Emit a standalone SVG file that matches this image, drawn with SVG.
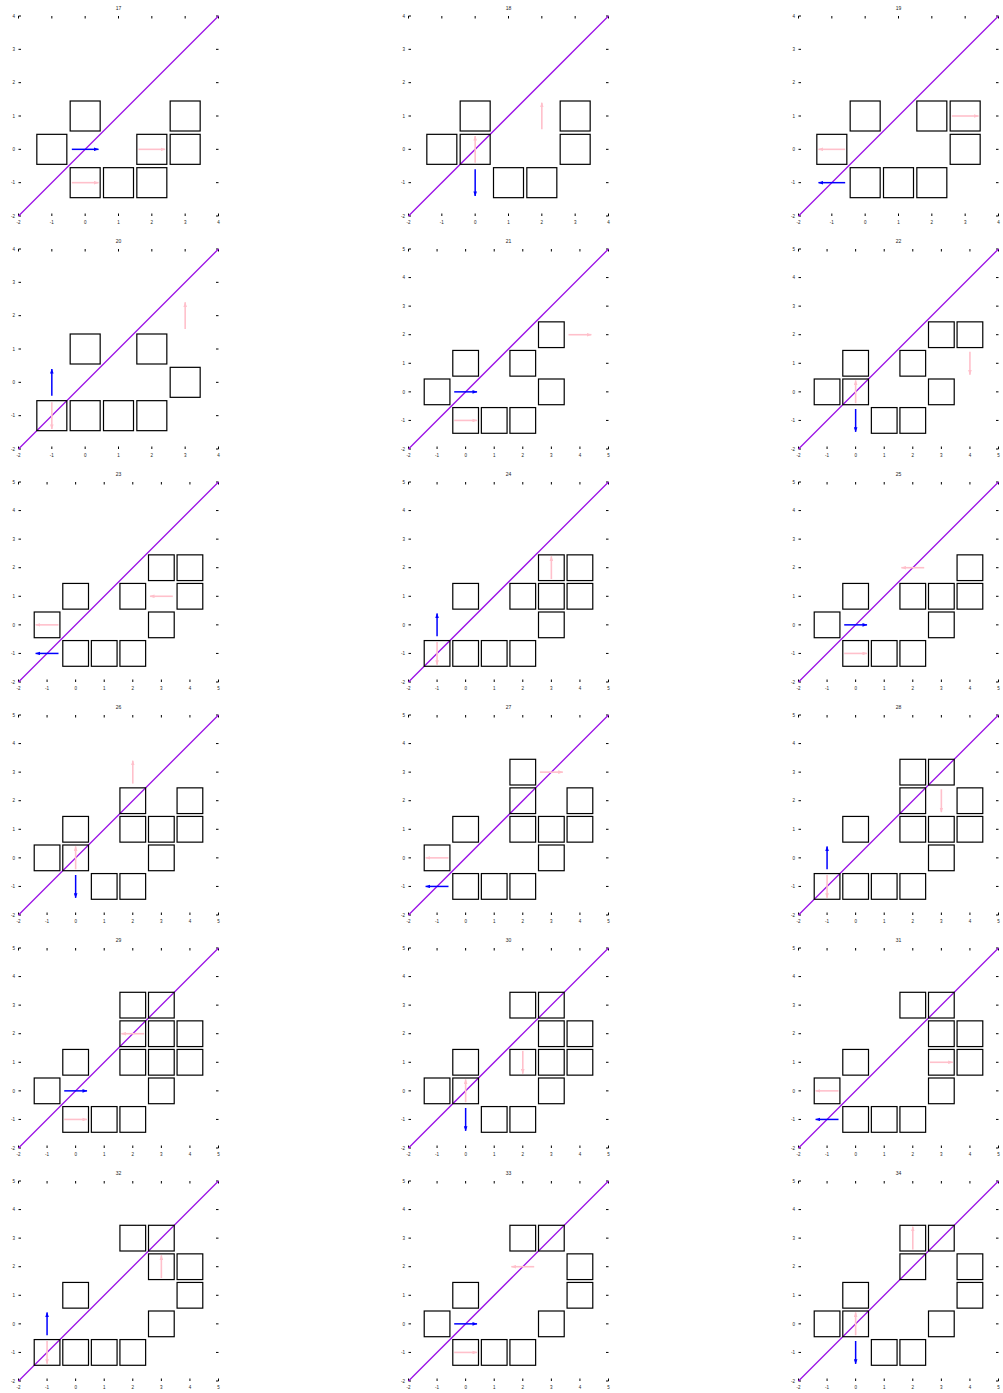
<svg xmlns="http://www.w3.org/2000/svg" xmlns:xlink="http://www.w3.org/1999/xlink" width="1003" height="1393" viewBox="0 0 1003 1393">
<style>
.sq{fill:none;stroke:#000;stroke-width:1.2}
.tk{fill:none;stroke:#000;stroke-width:1}
.dg{stroke:#9a10e6;stroke-width:1.3}
.ab{stroke:#0000ff;stroke-width:1.5;marker-end:url(#hb)}
.ap{stroke:#ffc0cb;stroke-width:1.6;marker-end:url(#hp)}
text{font-family:"Liberation Sans",Arial,sans-serif;fill:#222}
.yl{font-size:4.5px;text-anchor:end}
.xl{font-size:4.5px;text-anchor:middle}
.tt{font-size:5px;text-anchor:middle}
</style>
<defs>
<marker id="hb" markerWidth="5" markerHeight="4" refX="4.6" refY="2" orient="auto" markerUnits="userSpaceOnUse"><path d="M0,0.2L5,2L0,3.8z" fill="#0000ff"/></marker>
<marker id="hp" markerWidth="5" markerHeight="4" refX="4.6" refY="2" orient="auto" markerUnits="userSpaceOnUse"><path d="M0,0.2L5,2L0,3.8z" fill="#ffc0cb"/></marker>
<path id="ticksA" class="tk" d="M0,0v2.5M33.33,0v2.5M66.67,0v2.5M100,0v2.5M133.33,0v2.5M166.67,0v2.5M200,0v2.5M0,200v-2.5M33.33,200v-2.5M66.67,200v-2.5M100,200v-2.5M133.33,200v-2.5M166.67,200v-2.5M200,200v-2.5M0,0h2.5M0,33.33h2.5M0,66.67h2.5M0,100h2.5M0,133.33h2.5M0,166.67h2.5M0,200h2.5M200,0h-2.5M200,33.33h-2.5M200,66.67h-2.5M200,100h-2.5M200,133.33h-2.5M200,166.67h-2.5M200,200h-2.5"/>
<path id="ticksB" class="tk" d="M0,0v2.5M28.57,0v2.5M57.14,0v2.5M85.71,0v2.5M114.29,0v2.5M142.86,0v2.5M171.43,0v2.5M200,0v2.5M0,200v-2.5M28.57,200v-2.5M57.14,200v-2.5M85.71,200v-2.5M114.29,200v-2.5M142.86,200v-2.5M171.43,200v-2.5M200,200v-2.5M0,0h2.5M0,28.57h2.5M0,57.14h2.5M0,85.71h2.5M0,114.29h2.5M0,142.86h2.5M0,171.43h2.5M0,200h2.5M200,0h-2.5M200,28.57h-2.5M200,57.14h-2.5M200,85.71h-2.5M200,114.29h-2.5M200,142.86h-2.5M200,171.43h-2.5M200,200h-2.5"/>
</defs>
<rect width="1003" height="1393" fill="#fff"/>

<!-- Panel 17 -->
<g id="panel-17" transform="translate(18.5,16)">
<text class="tt" x="100" y="-6.5">17</text>
<use xlink:href="#ticksA" href="#ticksA"/>
<text class="yl" x="-3.5" y="1.6">4</text><text class="yl" x="-3.5" y="34.9">3</text><text class="yl" x="-3.5" y="68.3">2</text><text class="yl" x="-3.5" y="101.6">1</text><text class="yl" x="-3.5" y="134.9">0</text><text class="yl" x="-3.5" y="168.3">-1</text><text class="yl" x="-3.5" y="201.6">-2</text>
<text class="xl" x="0" y="207.5">-2</text><text class="xl" x="33.33" y="207.5">-1</text><text class="xl" x="66.67" y="207.5">0</text><text class="xl" x="100" y="207.5">1</text><text class="xl" x="133.33" y="207.5">2</text><text class="xl" x="166.67" y="207.5">3</text><text class="xl" x="200" y="207.5">4</text>
<line class="dg" x1="0" y1="200" x2="200" y2="0"/>
<rect class="sq" x="51.67" y="85" width="30" height="30"/>
<rect class="sq" x="18.33" y="118.33" width="30" height="30"/>
<rect class="sq" x="118.33" y="118.33" width="30" height="30"/>
<rect class="sq" x="151.67" y="118.33" width="30" height="30"/>
<rect class="sq" x="151.67" y="85" width="30" height="30"/>
<rect class="sq" x="51.67" y="151.67" width="30" height="30"/>
<rect class="sq" x="85" y="151.67" width="30" height="30"/>
<rect class="sq" x="118.33" y="151.67" width="30" height="30"/>
<line class="ab" x1="53.33" y1="133.33" x2="80" y2="133.33"/>
<line class="ap" x1="120" y1="133.33" x2="146.67" y2="133.33"/>
<line class="ap" x1="53.33" y1="166.67" x2="80" y2="166.67"/>
</g>

<!-- Panel 18 -->
<g id="panel-18" transform="translate(408.5,16)">
<text class="tt" x="100" y="-6.5">18</text>
<use xlink:href="#ticksA" href="#ticksA"/>
<text class="yl" x="-3.5" y="1.6">4</text><text class="yl" x="-3.5" y="34.9">3</text><text class="yl" x="-3.5" y="68.3">2</text><text class="yl" x="-3.5" y="101.6">1</text><text class="yl" x="-3.5" y="134.9">0</text><text class="yl" x="-3.5" y="168.3">-1</text><text class="yl" x="-3.5" y="201.6">-2</text>
<text class="xl" x="0" y="207.5">-2</text><text class="xl" x="33.33" y="207.5">-1</text><text class="xl" x="66.67" y="207.5">0</text><text class="xl" x="100" y="207.5">1</text><text class="xl" x="133.33" y="207.5">2</text><text class="xl" x="166.67" y="207.5">3</text><text class="xl" x="200" y="207.5">4</text>
<line class="dg" x1="0" y1="200" x2="200" y2="0"/>
<rect class="sq" x="51.67" y="85" width="30" height="30"/>
<rect class="sq" x="18.33" y="118.33" width="30" height="30"/>
<rect class="sq" x="51.67" y="118.33" width="30" height="30"/>
<rect class="sq" x="151.67" y="85" width="30" height="30"/>
<rect class="sq" x="151.67" y="118.33" width="30" height="30"/>
<rect class="sq" x="85" y="151.67" width="30" height="30"/>
<rect class="sq" x="118.33" y="151.67" width="30" height="30"/>
<line class="ap" x1="66.67" y1="146.67" x2="66.67" y2="120"/>
<line class="ap" x1="133.33" y1="113.33" x2="133.33" y2="86.67"/>
<line class="ab" x1="66.67" y1="153.33" x2="66.67" y2="180"/>
</g>

<!-- Panel 19 -->
<g id="panel-19" transform="translate(798.5,16)">
<text class="tt" x="100" y="-6.5">19</text>
<use xlink:href="#ticksA" href="#ticksA"/>
<text class="yl" x="-3.5" y="1.6">4</text><text class="yl" x="-3.5" y="34.9">3</text><text class="yl" x="-3.5" y="68.3">2</text><text class="yl" x="-3.5" y="101.6">1</text><text class="yl" x="-3.5" y="134.9">0</text><text class="yl" x="-3.5" y="168.3">-1</text><text class="yl" x="-3.5" y="201.6">-2</text>
<text class="xl" x="0" y="207.5">-2</text><text class="xl" x="33.33" y="207.5">-1</text><text class="xl" x="66.67" y="207.5">0</text><text class="xl" x="100" y="207.5">1</text><text class="xl" x="133.33" y="207.5">2</text><text class="xl" x="166.67" y="207.5">3</text><text class="xl" x="200" y="207.5">4</text>
<line class="dg" x1="0" y1="200" x2="200" y2="0"/>
<rect class="sq" x="51.67" y="85" width="30" height="30"/>
<rect class="sq" x="118.33" y="85" width="30" height="30"/>
<rect class="sq" x="151.67" y="85" width="30" height="30"/>
<rect class="sq" x="18.33" y="118.33" width="30" height="30"/>
<rect class="sq" x="151.67" y="118.33" width="30" height="30"/>
<rect class="sq" x="51.67" y="151.67" width="30" height="30"/>
<rect class="sq" x="85" y="151.67" width="30" height="30"/>
<rect class="sq" x="118.33" y="151.67" width="30" height="30"/>
<line class="ap" x1="153.33" y1="100" x2="180" y2="100"/>
<line class="ap" x1="46.67" y1="133.33" x2="20" y2="133.33"/>
<line class="ab" x1="46.67" y1="166.67" x2="20" y2="166.67"/>
</g>

<!-- Panel 20 -->
<g id="panel-20" transform="translate(18.5,249)">
<text class="tt" x="100" y="-6.5">20</text>
<use xlink:href="#ticksA" href="#ticksA"/>
<text class="yl" x="-3.5" y="1.6">4</text><text class="yl" x="-3.5" y="34.9">3</text><text class="yl" x="-3.5" y="68.3">2</text><text class="yl" x="-3.5" y="101.6">1</text><text class="yl" x="-3.5" y="134.9">0</text><text class="yl" x="-3.5" y="168.3">-1</text><text class="yl" x="-3.5" y="201.6">-2</text>
<text class="xl" x="0" y="207.5">-2</text><text class="xl" x="33.33" y="207.5">-1</text><text class="xl" x="66.67" y="207.5">0</text><text class="xl" x="100" y="207.5">1</text><text class="xl" x="133.33" y="207.5">2</text><text class="xl" x="166.67" y="207.5">3</text><text class="xl" x="200" y="207.5">4</text>
<line class="dg" x1="0" y1="200" x2="200" y2="0"/>
<rect class="sq" x="51.67" y="85" width="30" height="30"/>
<rect class="sq" x="118.33" y="85" width="30" height="30"/>
<rect class="sq" x="151.67" y="118.33" width="30" height="30"/>
<rect class="sq" x="18.33" y="151.67" width="30" height="30"/>
<rect class="sq" x="51.67" y="151.67" width="30" height="30"/>
<rect class="sq" x="85" y="151.67" width="30" height="30"/>
<rect class="sq" x="118.33" y="151.67" width="30" height="30"/>
<line class="ab" x1="33.33" y1="146.67" x2="33.33" y2="120"/>
<line class="ap" x1="33.33" y1="153.33" x2="33.33" y2="180"/>
<line class="ap" x1="166.67" y1="80" x2="166.67" y2="53.33"/>
</g>

<!-- Panel 21 -->
<g id="panel-21" transform="translate(408.5,249)">
<text class="tt" x="100" y="-6.5">21</text>
<use xlink:href="#ticksB" href="#ticksB"/>
<text class="yl" x="-3.5" y="1.6">5</text><text class="yl" x="-3.5" y="30.2">4</text><text class="yl" x="-3.5" y="58.7">3</text><text class="yl" x="-3.5" y="87.3">2</text><text class="yl" x="-3.5" y="115.9">1</text><text class="yl" x="-3.5" y="144.5">0</text><text class="yl" x="-3.5" y="173">-1</text><text class="yl" x="-3.5" y="201.6">-2</text>
<text class="xl" x="0" y="207.5">-2</text><text class="xl" x="28.57" y="207.5">-1</text><text class="xl" x="57.14" y="207.5">0</text><text class="xl" x="85.71" y="207.5">1</text><text class="xl" x="114.29" y="207.5">2</text><text class="xl" x="142.86" y="207.5">3</text><text class="xl" x="171.43" y="207.5">4</text><text class="xl" x="200" y="207.5">5</text>
<line class="dg" x1="0" y1="200" x2="200" y2="0"/>
<rect class="sq" x="130" y="72.86" width="25.71" height="25.71"/>
<rect class="sq" x="44.29" y="101.43" width="25.71" height="25.71"/>
<rect class="sq" x="101.43" y="101.43" width="25.71" height="25.71"/>
<rect class="sq" x="15.71" y="130" width="25.71" height="25.71"/>
<rect class="sq" x="130" y="130" width="25.71" height="25.71"/>
<rect class="sq" x="44.29" y="158.57" width="25.71" height="25.71"/>
<rect class="sq" x="72.86" y="158.57" width="25.71" height="25.71"/>
<rect class="sq" x="101.43" y="158.57" width="25.71" height="25.71"/>
<line class="ab" x1="45.71" y1="142.86" x2="68.57" y2="142.86"/>
<line class="ap" x1="45.71" y1="171.43" x2="68.57" y2="171.43"/>
<line class="ap" x1="160" y1="85.71" x2="182.86" y2="85.71"/>
</g>

<!-- Panel 22 -->
<g id="panel-22" transform="translate(798.5,249)">
<text class="tt" x="100" y="-6.5">22</text>
<use xlink:href="#ticksB" href="#ticksB"/>
<text class="yl" x="-3.5" y="1.6">5</text><text class="yl" x="-3.5" y="30.2">4</text><text class="yl" x="-3.5" y="58.7">3</text><text class="yl" x="-3.5" y="87.3">2</text><text class="yl" x="-3.5" y="115.9">1</text><text class="yl" x="-3.5" y="144.5">0</text><text class="yl" x="-3.5" y="173">-1</text><text class="yl" x="-3.5" y="201.6">-2</text>
<text class="xl" x="0" y="207.5">-2</text><text class="xl" x="28.57" y="207.5">-1</text><text class="xl" x="57.14" y="207.5">0</text><text class="xl" x="85.71" y="207.5">1</text><text class="xl" x="114.29" y="207.5">2</text><text class="xl" x="142.86" y="207.5">3</text><text class="xl" x="171.43" y="207.5">4</text><text class="xl" x="200" y="207.5">5</text>
<line class="dg" x1="0" y1="200" x2="200" y2="0"/>
<rect class="sq" x="130" y="72.86" width="25.71" height="25.71"/>
<rect class="sq" x="158.57" y="72.86" width="25.71" height="25.71"/>
<rect class="sq" x="44.29" y="101.43" width="25.71" height="25.71"/>
<rect class="sq" x="101.43" y="101.43" width="25.71" height="25.71"/>
<rect class="sq" x="15.71" y="130" width="25.71" height="25.71"/>
<rect class="sq" x="44.29" y="130" width="25.71" height="25.71"/>
<rect class="sq" x="130" y="130" width="25.71" height="25.71"/>
<rect class="sq" x="72.86" y="158.57" width="25.71" height="25.71"/>
<rect class="sq" x="101.43" y="158.57" width="25.71" height="25.71"/>
<line class="ap" x1="57.14" y1="154.29" x2="57.14" y2="131.43"/>
<line class="ab" x1="57.14" y1="160" x2="57.14" y2="182.86"/>
<line class="ap" x1="171.43" y1="102.86" x2="171.43" y2="125.71"/>
</g>

<!-- Panel 23 -->
<g id="panel-23" transform="translate(18.5,482)">
<text class="tt" x="100" y="-6.5">23</text>
<use xlink:href="#ticksB" href="#ticksB"/>
<text class="yl" x="-3.5" y="1.6">5</text><text class="yl" x="-3.5" y="30.2">4</text><text class="yl" x="-3.5" y="58.7">3</text><text class="yl" x="-3.5" y="87.3">2</text><text class="yl" x="-3.5" y="115.9">1</text><text class="yl" x="-3.5" y="144.5">0</text><text class="yl" x="-3.5" y="173">-1</text><text class="yl" x="-3.5" y="201.6">-2</text>
<text class="xl" x="0" y="207.5">-2</text><text class="xl" x="28.57" y="207.5">-1</text><text class="xl" x="57.14" y="207.5">0</text><text class="xl" x="85.71" y="207.5">1</text><text class="xl" x="114.29" y="207.5">2</text><text class="xl" x="142.86" y="207.5">3</text><text class="xl" x="171.43" y="207.5">4</text><text class="xl" x="200" y="207.5">5</text>
<line class="dg" x1="0" y1="200" x2="200" y2="0"/>
<rect class="sq" x="130" y="72.86" width="25.71" height="25.71"/>
<rect class="sq" x="158.57" y="72.86" width="25.71" height="25.71"/>
<rect class="sq" x="44.29" y="101.43" width="25.71" height="25.71"/>
<rect class="sq" x="101.43" y="101.43" width="25.71" height="25.71"/>
<rect class="sq" x="158.57" y="101.43" width="25.71" height="25.71"/>
<rect class="sq" x="15.71" y="130" width="25.71" height="25.71"/>
<rect class="sq" x="130" y="130" width="25.71" height="25.71"/>
<rect class="sq" x="44.29" y="158.57" width="25.71" height="25.71"/>
<rect class="sq" x="72.86" y="158.57" width="25.71" height="25.71"/>
<rect class="sq" x="101.43" y="158.57" width="25.71" height="25.71"/>
<line class="ap" x1="154.29" y1="114.29" x2="131.43" y2="114.29"/>
<line class="ap" x1="40" y1="142.86" x2="17.14" y2="142.86"/>
<line class="ab" x1="40" y1="171.43" x2="17.14" y2="171.43"/>
</g>

<!-- Panel 24 -->
<g id="panel-24" transform="translate(408.5,482)">
<text class="tt" x="100" y="-6.5">24</text>
<use xlink:href="#ticksB" href="#ticksB"/>
<text class="yl" x="-3.5" y="1.6">5</text><text class="yl" x="-3.5" y="30.2">4</text><text class="yl" x="-3.5" y="58.7">3</text><text class="yl" x="-3.5" y="87.3">2</text><text class="yl" x="-3.5" y="115.9">1</text><text class="yl" x="-3.5" y="144.5">0</text><text class="yl" x="-3.5" y="173">-1</text><text class="yl" x="-3.5" y="201.6">-2</text>
<text class="xl" x="0" y="207.5">-2</text><text class="xl" x="28.57" y="207.5">-1</text><text class="xl" x="57.14" y="207.5">0</text><text class="xl" x="85.71" y="207.5">1</text><text class="xl" x="114.29" y="207.5">2</text><text class="xl" x="142.86" y="207.5">3</text><text class="xl" x="171.43" y="207.5">4</text><text class="xl" x="200" y="207.5">5</text>
<line class="dg" x1="0" y1="200" x2="200" y2="0"/>
<rect class="sq" x="130" y="72.86" width="25.71" height="25.71"/>
<rect class="sq" x="158.57" y="72.86" width="25.71" height="25.71"/>
<rect class="sq" x="44.29" y="101.43" width="25.71" height="25.71"/>
<rect class="sq" x="101.43" y="101.43" width="25.71" height="25.71"/>
<rect class="sq" x="130" y="101.43" width="25.71" height="25.71"/>
<rect class="sq" x="158.57" y="101.43" width="25.71" height="25.71"/>
<rect class="sq" x="130" y="130" width="25.71" height="25.71"/>
<rect class="sq" x="15.71" y="158.57" width="25.71" height="25.71"/>
<rect class="sq" x="44.29" y="158.57" width="25.71" height="25.71"/>
<rect class="sq" x="72.86" y="158.57" width="25.71" height="25.71"/>
<rect class="sq" x="101.43" y="158.57" width="25.71" height="25.71"/>
<line class="ap" x1="142.86" y1="97.14" x2="142.86" y2="74.29"/>
<line class="ab" x1="28.57" y1="154.29" x2="28.57" y2="131.43"/>
<line class="ap" x1="28.57" y1="160" x2="28.57" y2="182.86"/>
</g>

<!-- Panel 25 -->
<g id="panel-25" transform="translate(798.5,482)">
<text class="tt" x="100" y="-6.5">25</text>
<use xlink:href="#ticksB" href="#ticksB"/>
<text class="yl" x="-3.5" y="1.6">5</text><text class="yl" x="-3.5" y="30.2">4</text><text class="yl" x="-3.5" y="58.7">3</text><text class="yl" x="-3.5" y="87.3">2</text><text class="yl" x="-3.5" y="115.9">1</text><text class="yl" x="-3.5" y="144.5">0</text><text class="yl" x="-3.5" y="173">-1</text><text class="yl" x="-3.5" y="201.6">-2</text>
<text class="xl" x="0" y="207.5">-2</text><text class="xl" x="28.57" y="207.5">-1</text><text class="xl" x="57.14" y="207.5">0</text><text class="xl" x="85.71" y="207.5">1</text><text class="xl" x="114.29" y="207.5">2</text><text class="xl" x="142.86" y="207.5">3</text><text class="xl" x="171.43" y="207.5">4</text><text class="xl" x="200" y="207.5">5</text>
<line class="dg" x1="0" y1="200" x2="200" y2="0"/>
<rect class="sq" x="158.57" y="72.86" width="25.71" height="25.71"/>
<rect class="sq" x="44.29" y="101.43" width="25.71" height="25.71"/>
<rect class="sq" x="101.43" y="101.43" width="25.71" height="25.71"/>
<rect class="sq" x="130" y="101.43" width="25.71" height="25.71"/>
<rect class="sq" x="158.57" y="101.43" width="25.71" height="25.71"/>
<rect class="sq" x="15.71" y="130" width="25.71" height="25.71"/>
<rect class="sq" x="130" y="130" width="25.71" height="25.71"/>
<rect class="sq" x="44.29" y="158.57" width="25.71" height="25.71"/>
<rect class="sq" x="72.86" y="158.57" width="25.71" height="25.71"/>
<rect class="sq" x="101.43" y="158.57" width="25.71" height="25.71"/>
<line class="ap" x1="125.71" y1="85.71" x2="102.86" y2="85.71"/>
<line class="ab" x1="45.71" y1="142.86" x2="68.57" y2="142.86"/>
<line class="ap" x1="45.71" y1="171.43" x2="68.57" y2="171.43"/>
</g>

<!-- Panel 26 -->
<g id="panel-26" transform="translate(18.5,715)">
<text class="tt" x="100" y="-6.5">26</text>
<use xlink:href="#ticksB" href="#ticksB"/>
<text class="yl" x="-3.5" y="1.6">5</text><text class="yl" x="-3.5" y="30.2">4</text><text class="yl" x="-3.5" y="58.7">3</text><text class="yl" x="-3.5" y="87.3">2</text><text class="yl" x="-3.5" y="115.9">1</text><text class="yl" x="-3.5" y="144.5">0</text><text class="yl" x="-3.5" y="173">-1</text><text class="yl" x="-3.5" y="201.6">-2</text>
<text class="xl" x="0" y="207.5">-2</text><text class="xl" x="28.57" y="207.5">-1</text><text class="xl" x="57.14" y="207.5">0</text><text class="xl" x="85.71" y="207.5">1</text><text class="xl" x="114.29" y="207.5">2</text><text class="xl" x="142.86" y="207.5">3</text><text class="xl" x="171.43" y="207.5">4</text><text class="xl" x="200" y="207.5">5</text>
<line class="dg" x1="0" y1="200" x2="200" y2="0"/>
<rect class="sq" x="101.43" y="72.86" width="25.71" height="25.71"/>
<rect class="sq" x="158.57" y="72.86" width="25.71" height="25.71"/>
<rect class="sq" x="44.29" y="101.43" width="25.71" height="25.71"/>
<rect class="sq" x="101.43" y="101.43" width="25.71" height="25.71"/>
<rect class="sq" x="130" y="101.43" width="25.71" height="25.71"/>
<rect class="sq" x="158.57" y="101.43" width="25.71" height="25.71"/>
<rect class="sq" x="15.71" y="130" width="25.71" height="25.71"/>
<rect class="sq" x="44.29" y="130" width="25.71" height="25.71"/>
<rect class="sq" x="130" y="130" width="25.71" height="25.71"/>
<rect class="sq" x="72.86" y="158.57" width="25.71" height="25.71"/>
<rect class="sq" x="101.43" y="158.57" width="25.71" height="25.71"/>
<line class="ap" x1="114.29" y1="68.57" x2="114.29" y2="45.71"/>
<line class="ap" x1="57.14" y1="154.29" x2="57.14" y2="131.43"/>
<line class="ab" x1="57.14" y1="160" x2="57.14" y2="182.86"/>
</g>

<!-- Panel 27 -->
<g id="panel-27" transform="translate(408.5,715)">
<text class="tt" x="100" y="-6.5">27</text>
<use xlink:href="#ticksB" href="#ticksB"/>
<text class="yl" x="-3.5" y="1.6">5</text><text class="yl" x="-3.5" y="30.2">4</text><text class="yl" x="-3.5" y="58.7">3</text><text class="yl" x="-3.5" y="87.3">2</text><text class="yl" x="-3.5" y="115.9">1</text><text class="yl" x="-3.5" y="144.5">0</text><text class="yl" x="-3.5" y="173">-1</text><text class="yl" x="-3.5" y="201.6">-2</text>
<text class="xl" x="0" y="207.5">-2</text><text class="xl" x="28.57" y="207.5">-1</text><text class="xl" x="57.14" y="207.5">0</text><text class="xl" x="85.71" y="207.5">1</text><text class="xl" x="114.29" y="207.5">2</text><text class="xl" x="142.86" y="207.5">3</text><text class="xl" x="171.43" y="207.5">4</text><text class="xl" x="200" y="207.5">5</text>
<line class="dg" x1="0" y1="200" x2="200" y2="0"/>
<rect class="sq" x="101.43" y="44.29" width="25.71" height="25.71"/>
<rect class="sq" x="101.43" y="72.86" width="25.71" height="25.71"/>
<rect class="sq" x="158.57" y="72.86" width="25.71" height="25.71"/>
<rect class="sq" x="44.29" y="101.43" width="25.71" height="25.71"/>
<rect class="sq" x="101.43" y="101.43" width="25.71" height="25.71"/>
<rect class="sq" x="130" y="101.43" width="25.71" height="25.71"/>
<rect class="sq" x="158.57" y="101.43" width="25.71" height="25.71"/>
<rect class="sq" x="15.71" y="130" width="25.71" height="25.71"/>
<rect class="sq" x="130" y="130" width="25.71" height="25.71"/>
<rect class="sq" x="44.29" y="158.57" width="25.71" height="25.71"/>
<rect class="sq" x="72.86" y="158.57" width="25.71" height="25.71"/>
<rect class="sq" x="101.43" y="158.57" width="25.71" height="25.71"/>
<line class="ap" x1="131.43" y1="57.14" x2="154.29" y2="57.14"/>
<line class="ap" x1="40" y1="142.86" x2="17.14" y2="142.86"/>
<line class="ab" x1="40" y1="171.43" x2="17.14" y2="171.43"/>
</g>

<!-- Panel 28 -->
<g id="panel-28" transform="translate(798.5,715)">
<text class="tt" x="100" y="-6.5">28</text>
<use xlink:href="#ticksB" href="#ticksB"/>
<text class="yl" x="-3.5" y="1.6">5</text><text class="yl" x="-3.5" y="30.2">4</text><text class="yl" x="-3.5" y="58.7">3</text><text class="yl" x="-3.5" y="87.3">2</text><text class="yl" x="-3.5" y="115.9">1</text><text class="yl" x="-3.5" y="144.5">0</text><text class="yl" x="-3.5" y="173">-1</text><text class="yl" x="-3.5" y="201.6">-2</text>
<text class="xl" x="0" y="207.5">-2</text><text class="xl" x="28.57" y="207.5">-1</text><text class="xl" x="57.14" y="207.5">0</text><text class="xl" x="85.71" y="207.5">1</text><text class="xl" x="114.29" y="207.5">2</text><text class="xl" x="142.86" y="207.5">3</text><text class="xl" x="171.43" y="207.5">4</text><text class="xl" x="200" y="207.5">5</text>
<line class="dg" x1="0" y1="200" x2="200" y2="0"/>
<rect class="sq" x="101.43" y="44.29" width="25.71" height="25.71"/>
<rect class="sq" x="130" y="44.29" width="25.71" height="25.71"/>
<rect class="sq" x="101.43" y="72.86" width="25.71" height="25.71"/>
<rect class="sq" x="158.57" y="72.86" width="25.71" height="25.71"/>
<rect class="sq" x="44.29" y="101.43" width="25.71" height="25.71"/>
<rect class="sq" x="101.43" y="101.43" width="25.71" height="25.71"/>
<rect class="sq" x="130" y="101.43" width="25.71" height="25.71"/>
<rect class="sq" x="158.57" y="101.43" width="25.71" height="25.71"/>
<rect class="sq" x="130" y="130" width="25.71" height="25.71"/>
<rect class="sq" x="15.71" y="158.57" width="25.71" height="25.71"/>
<rect class="sq" x="44.29" y="158.57" width="25.71" height="25.71"/>
<rect class="sq" x="72.86" y="158.57" width="25.71" height="25.71"/>
<rect class="sq" x="101.43" y="158.57" width="25.71" height="25.71"/>
<line class="ap" x1="142.86" y1="74.29" x2="142.86" y2="97.14"/>
<line class="ab" x1="28.57" y1="154.29" x2="28.57" y2="131.43"/>
<line class="ap" x1="28.57" y1="160" x2="28.57" y2="182.86"/>
</g>

<!-- Panel 29 -->
<g id="panel-29" transform="translate(18.5,948)">
<text class="tt" x="100" y="-6.5">29</text>
<use xlink:href="#ticksB" href="#ticksB"/>
<text class="yl" x="-3.5" y="1.6">5</text><text class="yl" x="-3.5" y="30.2">4</text><text class="yl" x="-3.5" y="58.7">3</text><text class="yl" x="-3.5" y="87.3">2</text><text class="yl" x="-3.5" y="115.9">1</text><text class="yl" x="-3.5" y="144.5">0</text><text class="yl" x="-3.5" y="173">-1</text><text class="yl" x="-3.5" y="201.6">-2</text>
<text class="xl" x="0" y="207.5">-2</text><text class="xl" x="28.57" y="207.5">-1</text><text class="xl" x="57.14" y="207.5">0</text><text class="xl" x="85.71" y="207.5">1</text><text class="xl" x="114.29" y="207.5">2</text><text class="xl" x="142.86" y="207.5">3</text><text class="xl" x="171.43" y="207.5">4</text><text class="xl" x="200" y="207.5">5</text>
<line class="dg" x1="0" y1="200" x2="200" y2="0"/>
<rect class="sq" x="101.43" y="44.29" width="25.71" height="25.71"/>
<rect class="sq" x="130" y="44.29" width="25.71" height="25.71"/>
<rect class="sq" x="101.43" y="72.86" width="25.71" height="25.71"/>
<rect class="sq" x="130" y="72.86" width="25.71" height="25.71"/>
<rect class="sq" x="158.57" y="72.86" width="25.71" height="25.71"/>
<rect class="sq" x="44.29" y="101.43" width="25.71" height="25.71"/>
<rect class="sq" x="101.43" y="101.43" width="25.71" height="25.71"/>
<rect class="sq" x="130" y="101.43" width="25.71" height="25.71"/>
<rect class="sq" x="158.57" y="101.43" width="25.71" height="25.71"/>
<rect class="sq" x="15.71" y="130" width="25.71" height="25.71"/>
<rect class="sq" x="130" y="130" width="25.71" height="25.71"/>
<rect class="sq" x="44.29" y="158.57" width="25.71" height="25.71"/>
<rect class="sq" x="72.86" y="158.57" width="25.71" height="25.71"/>
<rect class="sq" x="101.43" y="158.57" width="25.71" height="25.71"/>
<line class="ap" x1="125.71" y1="85.71" x2="102.86" y2="85.71"/>
<line class="ab" x1="45.71" y1="142.86" x2="68.57" y2="142.86"/>
<line class="ap" x1="45.71" y1="171.43" x2="68.57" y2="171.43"/>
</g>

<!-- Panel 30 -->
<g id="panel-30" transform="translate(408.5,948)">
<text class="tt" x="100" y="-6.5">30</text>
<use xlink:href="#ticksB" href="#ticksB"/>
<text class="yl" x="-3.5" y="1.6">5</text><text class="yl" x="-3.5" y="30.2">4</text><text class="yl" x="-3.5" y="58.7">3</text><text class="yl" x="-3.5" y="87.3">2</text><text class="yl" x="-3.5" y="115.9">1</text><text class="yl" x="-3.5" y="144.5">0</text><text class="yl" x="-3.5" y="173">-1</text><text class="yl" x="-3.5" y="201.6">-2</text>
<text class="xl" x="0" y="207.5">-2</text><text class="xl" x="28.57" y="207.5">-1</text><text class="xl" x="57.14" y="207.5">0</text><text class="xl" x="85.71" y="207.5">1</text><text class="xl" x="114.29" y="207.5">2</text><text class="xl" x="142.86" y="207.5">3</text><text class="xl" x="171.43" y="207.5">4</text><text class="xl" x="200" y="207.5">5</text>
<line class="dg" x1="0" y1="200" x2="200" y2="0"/>
<rect class="sq" x="101.43" y="44.29" width="25.71" height="25.71"/>
<rect class="sq" x="130" y="44.29" width="25.71" height="25.71"/>
<rect class="sq" x="130" y="72.86" width="25.71" height="25.71"/>
<rect class="sq" x="158.57" y="72.86" width="25.71" height="25.71"/>
<rect class="sq" x="44.29" y="101.43" width="25.71" height="25.71"/>
<rect class="sq" x="101.43" y="101.43" width="25.71" height="25.71"/>
<rect class="sq" x="130" y="101.43" width="25.71" height="25.71"/>
<rect class="sq" x="158.57" y="101.43" width="25.71" height="25.71"/>
<rect class="sq" x="15.71" y="130" width="25.71" height="25.71"/>
<rect class="sq" x="44.29" y="130" width="25.71" height="25.71"/>
<rect class="sq" x="130" y="130" width="25.71" height="25.71"/>
<rect class="sq" x="72.86" y="158.57" width="25.71" height="25.71"/>
<rect class="sq" x="101.43" y="158.57" width="25.71" height="25.71"/>
<line class="ap" x1="114.29" y1="102.86" x2="114.29" y2="125.71"/>
<line class="ap" x1="57.14" y1="154.29" x2="57.14" y2="131.43"/>
<line class="ab" x1="57.14" y1="160" x2="57.14" y2="182.86"/>
</g>

<!-- Panel 31 -->
<g id="panel-31" transform="translate(798.5,948)">
<text class="tt" x="100" y="-6.5">31</text>
<use xlink:href="#ticksB" href="#ticksB"/>
<text class="yl" x="-3.5" y="1.6">5</text><text class="yl" x="-3.5" y="30.2">4</text><text class="yl" x="-3.5" y="58.7">3</text><text class="yl" x="-3.5" y="87.3">2</text><text class="yl" x="-3.5" y="115.9">1</text><text class="yl" x="-3.5" y="144.5">0</text><text class="yl" x="-3.5" y="173">-1</text><text class="yl" x="-3.5" y="201.6">-2</text>
<text class="xl" x="0" y="207.5">-2</text><text class="xl" x="28.57" y="207.5">-1</text><text class="xl" x="57.14" y="207.5">0</text><text class="xl" x="85.71" y="207.5">1</text><text class="xl" x="114.29" y="207.5">2</text><text class="xl" x="142.86" y="207.5">3</text><text class="xl" x="171.43" y="207.5">4</text><text class="xl" x="200" y="207.5">5</text>
<line class="dg" x1="0" y1="200" x2="200" y2="0"/>
<rect class="sq" x="101.43" y="44.29" width="25.71" height="25.71"/>
<rect class="sq" x="130" y="44.29" width="25.71" height="25.71"/>
<rect class="sq" x="130" y="72.86" width="25.71" height="25.71"/>
<rect class="sq" x="158.57" y="72.86" width="25.71" height="25.71"/>
<rect class="sq" x="44.29" y="101.43" width="25.71" height="25.71"/>
<rect class="sq" x="130" y="101.43" width="25.71" height="25.71"/>
<rect class="sq" x="158.57" y="101.43" width="25.71" height="25.71"/>
<rect class="sq" x="15.71" y="130" width="25.71" height="25.71"/>
<rect class="sq" x="130" y="130" width="25.71" height="25.71"/>
<rect class="sq" x="44.29" y="158.57" width="25.71" height="25.71"/>
<rect class="sq" x="72.86" y="158.57" width="25.71" height="25.71"/>
<rect class="sq" x="101.43" y="158.57" width="25.71" height="25.71"/>
<line class="ap" x1="131.43" y1="114.29" x2="154.29" y2="114.29"/>
<line class="ap" x1="40" y1="142.86" x2="17.14" y2="142.86"/>
<line class="ab" x1="40" y1="171.43" x2="17.14" y2="171.43"/>
</g>

<!-- Panel 32 -->
<g id="panel-32" transform="translate(18.5,1181)">
<text class="tt" x="100" y="-6.5">32</text>
<use xlink:href="#ticksB" href="#ticksB"/>
<text class="yl" x="-3.5" y="1.6">5</text><text class="yl" x="-3.5" y="30.2">4</text><text class="yl" x="-3.5" y="58.7">3</text><text class="yl" x="-3.5" y="87.3">2</text><text class="yl" x="-3.5" y="115.9">1</text><text class="yl" x="-3.5" y="144.5">0</text><text class="yl" x="-3.5" y="173">-1</text><text class="yl" x="-3.5" y="201.6">-2</text>
<text class="xl" x="0" y="207.5">-2</text><text class="xl" x="28.57" y="207.5">-1</text><text class="xl" x="57.14" y="207.5">0</text><text class="xl" x="85.71" y="207.5">1</text><text class="xl" x="114.29" y="207.5">2</text><text class="xl" x="142.86" y="207.5">3</text><text class="xl" x="171.43" y="207.5">4</text><text class="xl" x="200" y="207.5">5</text>
<line class="dg" x1="0" y1="200" x2="200" y2="0"/>
<rect class="sq" x="101.43" y="44.29" width="25.71" height="25.71"/>
<rect class="sq" x="130" y="44.29" width="25.71" height="25.71"/>
<rect class="sq" x="130" y="72.86" width="25.71" height="25.71"/>
<rect class="sq" x="158.57" y="72.86" width="25.71" height="25.71"/>
<rect class="sq" x="44.29" y="101.43" width="25.71" height="25.71"/>
<rect class="sq" x="158.57" y="101.43" width="25.71" height="25.71"/>
<rect class="sq" x="130" y="130" width="25.71" height="25.71"/>
<rect class="sq" x="15.71" y="158.57" width="25.71" height="25.71"/>
<rect class="sq" x="44.29" y="158.57" width="25.71" height="25.71"/>
<rect class="sq" x="72.86" y="158.57" width="25.71" height="25.71"/>
<rect class="sq" x="101.43" y="158.57" width="25.71" height="25.71"/>
<line class="ap" x1="142.86" y1="97.14" x2="142.86" y2="74.29"/>
<line class="ab" x1="28.57" y1="154.29" x2="28.57" y2="131.43"/>
<line class="ap" x1="28.57" y1="160" x2="28.57" y2="182.86"/>
</g>

<!-- Panel 33 -->
<g id="panel-33" transform="translate(408.5,1181)">
<text class="tt" x="100" y="-6.5">33</text>
<use xlink:href="#ticksB" href="#ticksB"/>
<text class="yl" x="-3.5" y="1.6">5</text><text class="yl" x="-3.5" y="30.2">4</text><text class="yl" x="-3.5" y="58.7">3</text><text class="yl" x="-3.5" y="87.3">2</text><text class="yl" x="-3.5" y="115.9">1</text><text class="yl" x="-3.5" y="144.5">0</text><text class="yl" x="-3.5" y="173">-1</text><text class="yl" x="-3.5" y="201.6">-2</text>
<text class="xl" x="0" y="207.5">-2</text><text class="xl" x="28.57" y="207.5">-1</text><text class="xl" x="57.14" y="207.5">0</text><text class="xl" x="85.71" y="207.5">1</text><text class="xl" x="114.29" y="207.5">2</text><text class="xl" x="142.86" y="207.5">3</text><text class="xl" x="171.43" y="207.5">4</text><text class="xl" x="200" y="207.5">5</text>
<line class="dg" x1="0" y1="200" x2="200" y2="0"/>
<rect class="sq" x="101.43" y="44.29" width="25.71" height="25.71"/>
<rect class="sq" x="130" y="44.29" width="25.71" height="25.71"/>
<rect class="sq" x="158.57" y="72.86" width="25.71" height="25.71"/>
<rect class="sq" x="44.29" y="101.43" width="25.71" height="25.71"/>
<rect class="sq" x="158.57" y="101.43" width="25.71" height="25.71"/>
<rect class="sq" x="15.71" y="130" width="25.71" height="25.71"/>
<rect class="sq" x="130" y="130" width="25.71" height="25.71"/>
<rect class="sq" x="44.29" y="158.57" width="25.71" height="25.71"/>
<rect class="sq" x="72.86" y="158.57" width="25.71" height="25.71"/>
<rect class="sq" x="101.43" y="158.57" width="25.71" height="25.71"/>
<line class="ap" x1="125.71" y1="85.71" x2="102.86" y2="85.71"/>
<line class="ab" x1="45.71" y1="142.86" x2="68.57" y2="142.86"/>
<line class="ap" x1="45.71" y1="171.43" x2="68.57" y2="171.43"/>
</g>

<!-- Panel 34 -->
<g id="panel-34" transform="translate(798.5,1181)">
<text class="tt" x="100" y="-6.5">34</text>
<use xlink:href="#ticksB" href="#ticksB"/>
<text class="yl" x="-3.5" y="1.6">5</text><text class="yl" x="-3.5" y="30.2">4</text><text class="yl" x="-3.5" y="58.7">3</text><text class="yl" x="-3.5" y="87.3">2</text><text class="yl" x="-3.5" y="115.9">1</text><text class="yl" x="-3.5" y="144.5">0</text><text class="yl" x="-3.5" y="173">-1</text><text class="yl" x="-3.5" y="201.6">-2</text>
<text class="xl" x="0" y="207.5">-2</text><text class="xl" x="28.57" y="207.5">-1</text><text class="xl" x="57.14" y="207.5">0</text><text class="xl" x="85.71" y="207.5">1</text><text class="xl" x="114.29" y="207.5">2</text><text class="xl" x="142.86" y="207.5">3</text><text class="xl" x="171.43" y="207.5">4</text><text class="xl" x="200" y="207.5">5</text>
<line class="dg" x1="0" y1="200" x2="200" y2="0"/>
<rect class="sq" x="101.43" y="44.29" width="25.71" height="25.71"/>
<rect class="sq" x="130" y="44.29" width="25.71" height="25.71"/>
<rect class="sq" x="101.43" y="72.86" width="25.71" height="25.71"/>
<rect class="sq" x="158.57" y="72.86" width="25.71" height="25.71"/>
<rect class="sq" x="44.29" y="101.43" width="25.71" height="25.71"/>
<rect class="sq" x="158.57" y="101.43" width="25.71" height="25.71"/>
<rect class="sq" x="15.71" y="130" width="25.71" height="25.71"/>
<rect class="sq" x="44.29" y="130" width="25.71" height="25.71"/>
<rect class="sq" x="130" y="130" width="25.71" height="25.71"/>
<rect class="sq" x="72.86" y="158.57" width="25.71" height="25.71"/>
<rect class="sq" x="101.43" y="158.57" width="25.71" height="25.71"/>
<line class="ap" x1="114.29" y1="68.57" x2="114.29" y2="45.71"/>
<line class="ap" x1="57.14" y1="154.29" x2="57.14" y2="131.43"/>
<line class="ab" x1="57.14" y1="160" x2="57.14" y2="182.86"/>
</g>
</svg>
